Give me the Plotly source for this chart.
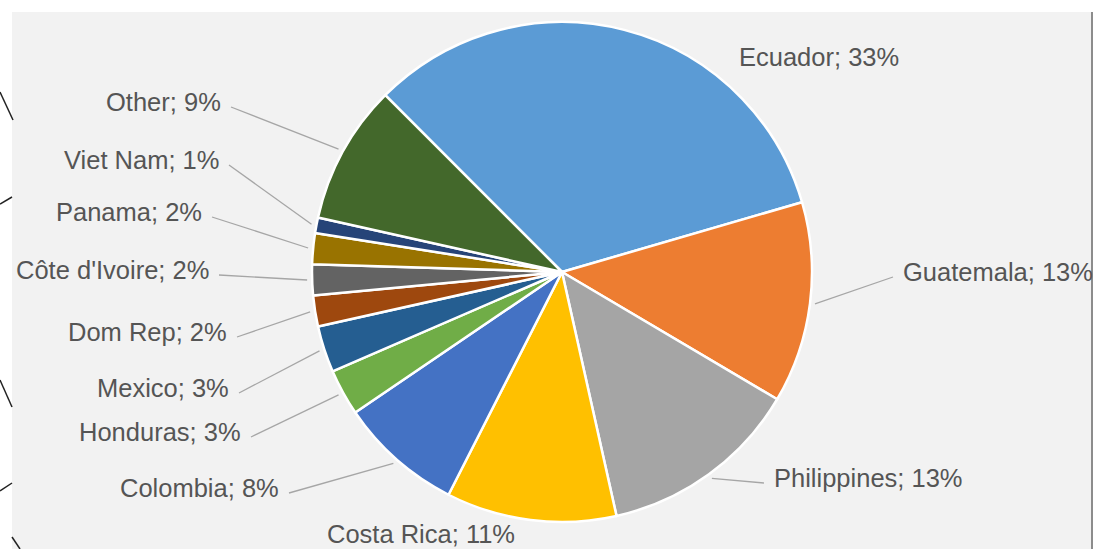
import math
import plotly.graph_objects as go

# ---------------- data ----------------
countries = ["Ecuador", "Guatemala", "Philippines", "Costa Rica", "Colombia",
             "Honduras", "Mexico", "Dom Rep", "Côte d'Ivoire", "Panama",
             "Viet Nam", "Other"]
shares = [33, 13, 13, 11, 8, 3, 3, 2, 2, 2, 1, 9]

# ---------------- styles / layout ----------------
colors = ["#5B9BD5", "#ED7D31", "#A5A5A5", "#FFC000", "#4472C4", "#70AD47",
          "#255E91", "#9E480E", "#636363", "#997300", "#264478", "#43682B"]

W, H = 1097, 549
CX, CY, R = 562, 272, 250          # pie centre / radius in pixels
ROT = -45                          # start angle of first slice (clockwise from 12 o'clock)
FONT = dict(family="Liberation Sans, Arial, sans-serif", size=25.5, color="#555555")
LINE_COLOR = "#A6A6A6"

# label placement: (anchor side, text edge x px, text centre y px, draw leader line)
label_layout = {
    "Ecuador":       ("left", 737, 57, False),
    "Guatemala":     ("left", 901, 272, True),
    "Philippines":   ("left", 772, 478, True),
    "Costa Rica":    ("left", 325, 534, False),
    "Colombia":      ("right", 281, 488, True),
    "Honduras":      ("right", 243, 432, True),
    "Mexico":        ("right", 231, 388, True),
    "Dom Rep":       ("right", 229, 332, True),
    "Côte d'Ivoire": ("right", 211, 270, True),
    "Panama":        ("right", 204, 212, True),
    "Viet Nam":      ("right", 221, 160, True),
    "Other":         ("right", 223, 102, True),
}


def px(x):
    return x / W


def py(y):
    return 1 - y / H


fig = go.Figure()
fig.add_trace(go.Pie(
    labels=countries,
    values=shares,
    sort=False,
    direction="clockwise",
    rotation=ROT,
    marker=dict(colors=colors, line=dict(color="#FFFFFF", width=2.5)),
    textinfo="none",
    hoverinfo="label+percent",
    showlegend=False,
    domain=dict(x=[px(CX - R), px(CX + R)], y=[py(CY + R), py(CY - R)]),
))

shapes = []
annotations = []

# background panel
shapes.append(dict(type="rect", xref="paper", yref="paper",
                   x0=px(12), x1=px(1092), y0=py(549), y1=py(12),
                   fillcolor="#F2F2F2", line=dict(width=0), layer="below"))
shapes.append(dict(type="line", xref="paper", yref="paper",
                   x0=px(1092), x1=px(1092), y0=py(549), y1=py(12),
                   line=dict(color="#8C8C8C", width=2), layer="below"))

total = sum(shares)
cum = 0
for name, v in zip(countries, shares):
    mid = ROT + 360.0 * (cum + v / 2.0) / total
    cum += v
    a = math.radians(mid)
    tipx = CX + R * 1.02 * math.sin(a)
    tipy = CY - R * 1.02 * math.cos(a)
    side, ex, ey, leader = label_layout[name]
    annotations.append(dict(
        x=px(ex), y=py(ey), xref="paper", yref="paper",
        text=f"{name}; {v}%", showarrow=False,
        xanchor=side, yanchor="middle", font=FONT,
    ))
    if leader:
        sx = ex + 8 if side == "right" else ex - 8
        sy = ey + 5
        shapes.append(dict(type="line", xref="paper", yref="paper",
                           x0=px(sx), y0=py(sy), x1=px(tipx), y1=py(tipy),
                           line=dict(color=LINE_COLOR, width=1.3)))

# stray pen marks along the left edge of the original image
for (x0, y0, x1, y1) in [(0, 92, 13, 120), (0, 204, 12, 197), (0, 380, 12, 407),
                         (0, 491, 12, 483), (12, 537, 20, 549)]:
    shapes.append(dict(type="line", xref="paper", yref="paper",
                       x0=px(x0), y0=py(y0), x1=px(x1), y1=py(y1),
                       line=dict(color="#222222", width=1.5)))

fig.update_layout(
    width=W, height=H,
    margin=dict(l=0, r=0, t=0, b=0),
    paper_bgcolor="#FFFFFF",
    plot_bgcolor="#FFFFFF",
    shapes=shapes,
    annotations=annotations,
)

fig.write_html("out.html",
               config={"displayModeBar": False},
               post_script="document.body.style.margin='0';document.body.style.overflow='hidden';")
